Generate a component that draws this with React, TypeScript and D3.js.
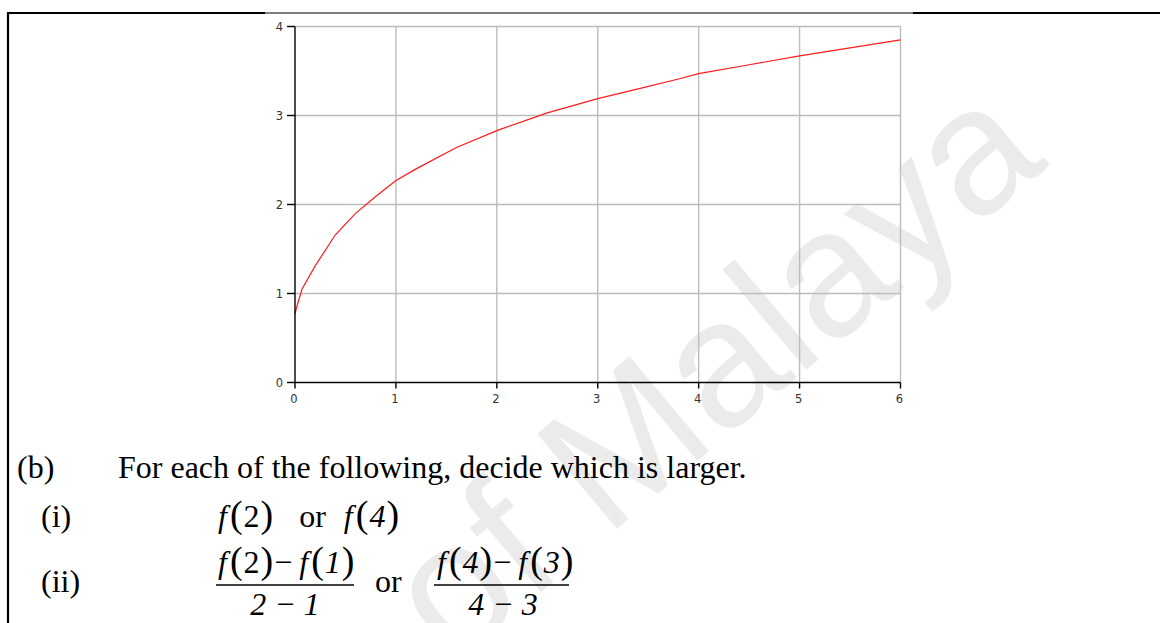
import React from "react";
import * as d3 from "d3";

// Sampled points of f(x) on [0, 6]
const xs = [0, 0.02, 0.07, 0.2, 0.4, 0.6, 0.8, 1.0, 1.2, 1.6, 2.0, 2.5, 3.0, 3.4, 3.8, 4.0, 4.5, 5.0, 5.5, 6.0];
const fx = [0.77, 0.86, 1.05, 1.31, 1.66, 1.9, 2.09, 2.27, 2.4, 2.64, 2.83, 3.03, 3.19, 3.3, 3.41, 3.47, 3.57, 3.67, 3.76, 3.85];
const xTicks = [0, 1, 2, 3, 4, 5, 6];
const yTicks = [0, 1, 2, 3, 4];

const W = 1160;
const H = 623;

const serif = "'Liberation Serif', 'Times New Roman', serif";
const tickFont = "'DejaVu Sans', Verdana, sans-serif";

export default function App() {
  const x = d3.scaleLinear().domain([0, 6]).range([295, 900.5]);
  const y = d3.scaleLinear().domain([0, 4]).range([382.5, 26.5]);
  const pts = xs.map((v, i) => [v, fx[i]] as [number, number]);
  const line = d3
    .line<[number, number]>()
    .x((d) => x(d[0]))
    .y((d) => y(d[1]))
    .curve(d3.curveLinear);

  const big = 38;
  const base = 32;
  // tall delimiters around function arguments
  const P = (c: string, dx = 0) => (
    <tspan style={{ fontSize: big }} fontStyle="normal" dx={dx}>{c}</tspan>
  );
  const I = (c: string, dx = 0) => <tspan fontStyle="italic" dx={dx}>{c}</tspan>;
  const N = (c: string, dx = 0) => <tspan fontStyle="normal" dx={dx}>{c}</tspan>;

  return (
    <svg
      width={W}
      height={H}
      viewBox={`0 0 ${W} ${H}`}
      style={{ position: "absolute", left: 0, top: 0, background: "#fff" }}
    >
      <rect width={W} height={H} fill="#fff" />
      {/* watermark */}
      <text
        transform="translate(1050,165) rotate(-40)"
        textAnchor="end"
        fontFamily="'Liberation Sans', Arial, sans-serif"
        fontSize={180}
        fill="#ebebeb"
      >
        University of Malaya
      </text>

      {/* page frame */}
      <line x1={8} y1={13} x2={8} y2={H} stroke="#000" strokeWidth={2.2} />
      <line x1={7} y1={13} x2={265} y2={13} stroke="#000" strokeWidth={2} />
      <line x1={265} y1={13} x2={913} y2={13} stroke="#000" strokeWidth={1} />
      <line x1={913} y1={13} x2={W} y2={13} stroke="#000" strokeWidth={2} />

      {/* grid */}
      <g stroke="#bcbcbc" strokeWidth={1.4}>
        {xTicks.filter((t) => t > 0).map((t) => (
          <line key={"gx" + t} x1={x(t)} x2={x(t)} y1={y(0)} y2={y(4)} />
        ))}
        {yTicks.filter((t) => t > 0).map((t) => (
          <line key={"gy" + t} x1={x(0)} x2={x(6)} y1={y(t)} y2={y(t)} />
        ))}
      </g>

      {/* curve */}
      <path d={line(pts) ?? ""} fill="none" stroke="#ff1a1a" strokeWidth={1.2} />

      {/* axes */}
      <g stroke="#000" strokeWidth={1.4}>
        <line x1={x(0)} x2={x(0)} y1={y(0)} y2={y(4)} />
        <line x1={x(0)} x2={x(6)} y1={y(0)} y2={y(0)} />
        {xTicks.map((t) => (
          <line key={"tx" + t} x1={x(t)} x2={x(t)} y1={y(0)} y2={y(0) + 6} />
        ))}
        {yTicks.map((t) => (
          <line key={"ty" + t} x1={x(0) - 8} x2={x(0)} y1={y(t)} y2={y(t)} />
        ))}
      </g>
      <g fontFamily={tickFont} fontSize={11.5} fill="#333">
        {xTicks.map((t) => (
          <text key={"lx" + t} x={x(t) - 1} y={y(0) + 20} textAnchor="middle">
            {t}
          </text>
        ))}
        {yTicks.map((t) => (
          <text key={"ly" + t} x={x(0) - 12} y={y(t) + 4} textAnchor="end">
            {t}
          </text>
        ))}
      </g>

      {/* question text */}
      <g fontFamily={serif} fontSize={base} fill="#000">
        <text x={17} y={478}>(b)</text>
        <text x={118} y={478}>For each of the following, decide which is larger.</text>

        <text x={41} y={527}>(i)</text>
        <text x={218} y={527}>
          {I("f")}{P("(", 3)}{N("2", 1)}{P(")", 1)}
          {N("or", 26)}
          {I("f", 18)}{P("(", 3)}{I("4", 1)}{P(")", 1)}
        </text>

        <text x={41} y={592}>(ii)</text>
        <text x={218} y={573}>
          {I("f")}{P("(", 3)}{N("2", 1)}{P(")", 1)}{N("−", 1)}{I("f", 7)}{P("(", 3)}{I("1", 1)}{P(")", 1)}
        </text>
        <line x1={216} x2={354} y1={585} y2={585} stroke="#000" strokeWidth={1.5} />
        <text x={285} y={615} textAnchor="middle" fontStyle="italic">2 − 1</text>

        <text x={375} y={592}>or</text>

        <text x={437} y={573}>
          {I("f")}{P("(", 3)}{I("4", 1)}{P(")", 1)}{N("−", 1)}{I("f", 7)}{P("(", 3)}{I("3", 1)}{P(")", 1)}
        </text>
        <line x1={434} x2={569} y1={585} y2={585} stroke="#000" strokeWidth={1.5} />
        <text x={503} y={615} textAnchor="middle" fontStyle="italic">4 − 3</text>
      </g>
    </svg>
  );
}
